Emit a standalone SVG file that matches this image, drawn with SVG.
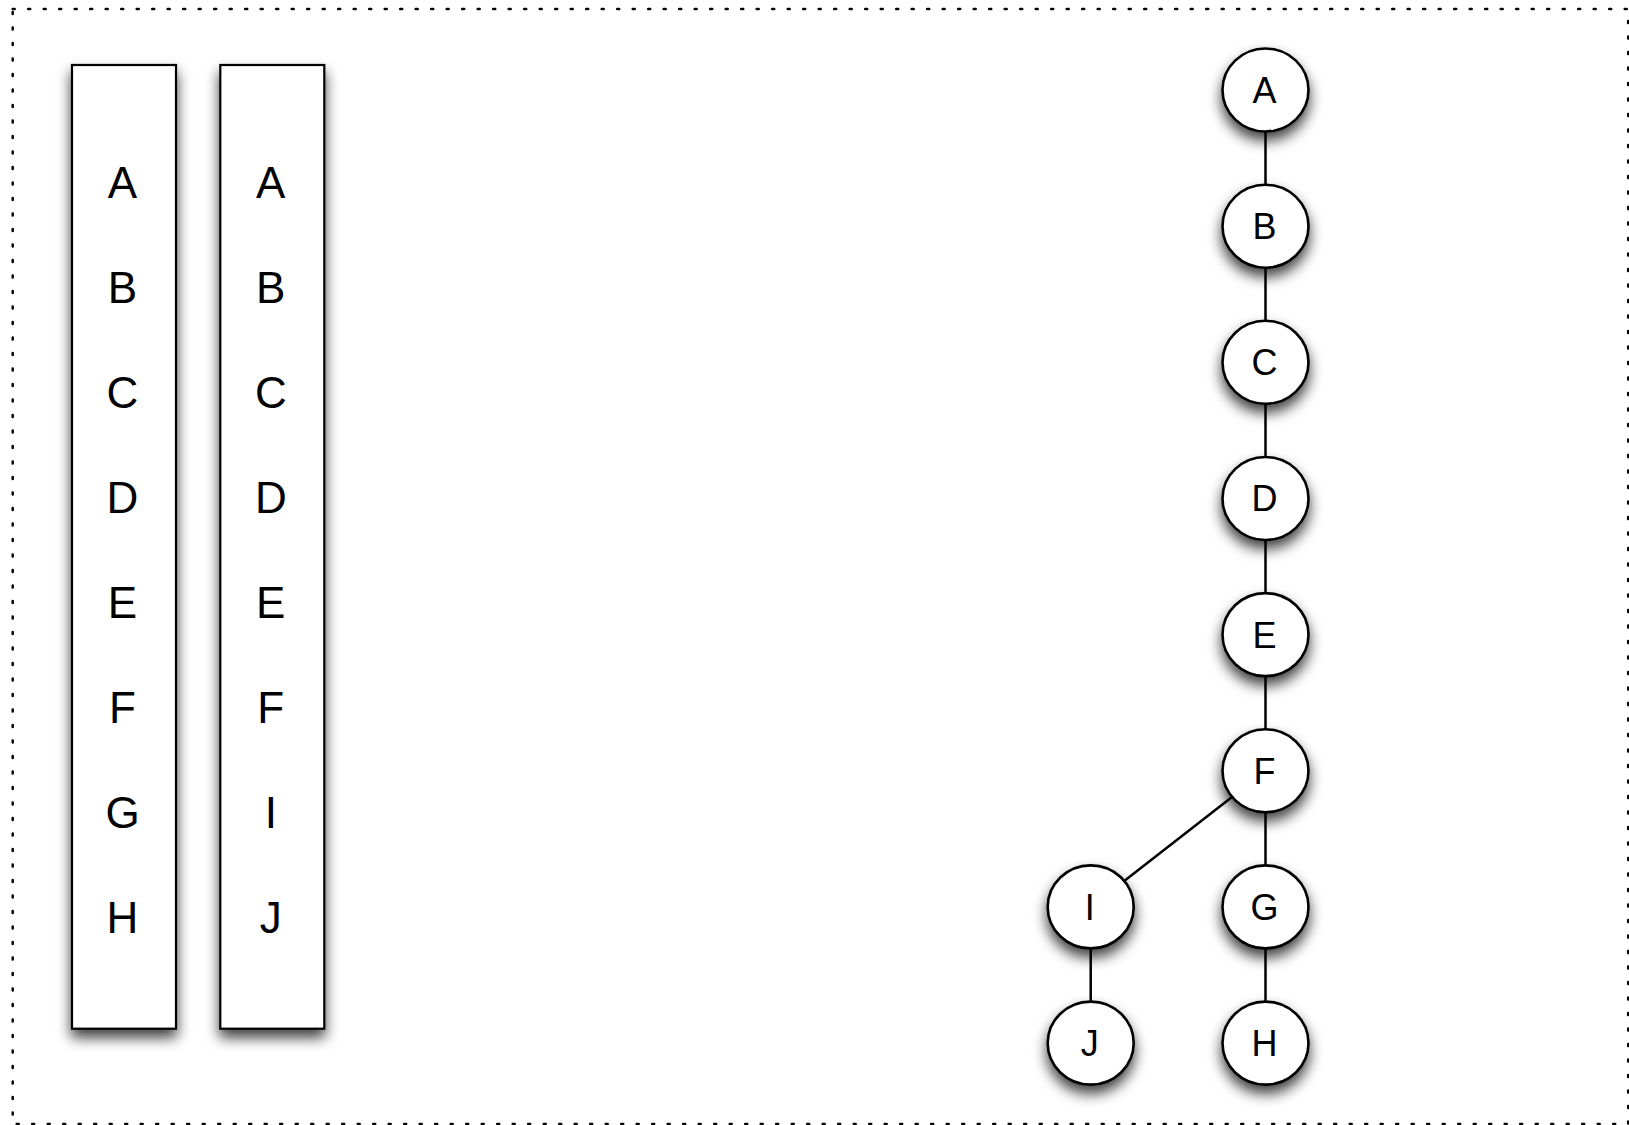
<svg xmlns="http://www.w3.org/2000/svg" width="1629" height="1125" viewBox="0 0 1629 1125">
  <defs>
    <filter id="shadow" x="-50%" y="-50%" width="200%" height="200%">
      <feDropShadow dx="0" dy="8" stdDeviation="7" flood-color="#000" flood-opacity="0.75"/>
    </filter>
    <style>
      .frame { fill: none; stroke: #000; stroke-width: 2.5; stroke-dasharray: 2 13.5; stroke-linecap: round; }
      .column { fill: #fff; stroke: #000; stroke-width: 2.2; filter: url(#shadow); }
      .col-text { font-family: "Liberation Sans", Arial, sans-serif; font-size: 44px; text-anchor: middle; fill: #000; }
      .node ellipse { fill: #fff; stroke: #000; stroke-width: 2.6; filter: url(#shadow); }
      .node text { font-family: "Liberation Sans", Arial, sans-serif; font-size: 36px; text-anchor: middle; fill: #000; }
      .edge { stroke: #000; stroke-width: 2.5; fill: none; }
    </style>
  </defs>

  <rect width="1629" height="1125" fill="#fff"/>

  <!-- dotted outer frame -->
  <rect class="frame" x="12.7" y="9" width="1615.5" height="1115"/>

  <!-- first sequence list -->
  <g id="list1">
    <rect class="column" x="72" y="65" width="104" height="963.7"/>
    <text class="col-text" x="122.5" y="198">A</text>
    <text class="col-text" x="122.5" y="303">B</text>
    <text class="col-text" x="122.5" y="408">C</text>
    <text class="col-text" x="122.5" y="513">D</text>
    <text class="col-text" x="122.5" y="618">E</text>
    <text class="col-text" x="122.5" y="723">F</text>
    <text class="col-text" x="122.5" y="828">G</text>
    <text class="col-text" x="122.5" y="933">H</text>
  </g>

  <!-- second sequence list -->
  <g id="list2">
    <rect class="column" x="220.3" y="65" width="104" height="963.7"/>
    <text class="col-text" x="270.8" y="198">A</text>
    <text class="col-text" x="270.8" y="303">B</text>
    <text class="col-text" x="270.8" y="408">C</text>
    <text class="col-text" x="270.8" y="513">D</text>
    <text class="col-text" x="270.8" y="618">E</text>
    <text class="col-text" x="270.8" y="723">F</text>
    <text class="col-text" x="270.8" y="828">I</text>
    <text class="col-text" x="270.8" y="933">J</text>
  </g>

  <!-- tree nodes -->
  <g id="node-A" class="node"><ellipse cx="1265.5" cy="90" rx="43" ry="41.5"/><text x="1264.5" y="103">A</text></g>
  <g id="node-B" class="node"><ellipse cx="1265.5" cy="226.2" rx="43" ry="41.5"/><text x="1264.5" y="239.1">B</text></g>
  <g id="node-C" class="node"><ellipse cx="1265.5" cy="362.3" rx="43" ry="41.5"/><text x="1264.5" y="375.2">C</text></g>
  <g id="node-D" class="node"><ellipse cx="1265.5" cy="498.5" rx="43" ry="41.5"/><text x="1264.5" y="511.4">D</text></g>
  <g id="node-E" class="node"><ellipse cx="1265.5" cy="634.6" rx="43" ry="41.5"/><text x="1264.5" y="647.5">E</text></g>
  <g id="node-F" class="node"><ellipse cx="1265.5" cy="770.8" rx="43" ry="41.5"/><text x="1264.5" y="783.7">F</text></g>
  <g id="node-G" class="node"><ellipse cx="1265.5" cy="906.9" rx="43" ry="41.5"/><text x="1264.5" y="919.8">G</text></g>
  <g id="node-H" class="node"><ellipse cx="1265.5" cy="1043.1" rx="43" ry="41.5"/><text x="1264.5" y="1056">H</text></g>
  <g id="node-I" class="node"><ellipse cx="1090.7" cy="906.9" rx="43" ry="41.5"/><text x="1089.7" y="919.8">I</text></g>
  <g id="node-J" class="node"><ellipse cx="1090.7" cy="1043.1" rx="43" ry="41.5"/><text x="1089.7" y="1056">J</text></g>

  <!-- tree edges -->
  <g id="edges">
    <line class="edge" x1="1265.5" y1="131.5" x2="1265.5" y2="184.7"/>
    <line class="edge" x1="1265.5" y1="267.7" x2="1265.5" y2="320.8"/>
    <line class="edge" x1="1265.5" y1="403.8" x2="1265.5" y2="457"/>
    <line class="edge" x1="1265.5" y1="540" x2="1265.5" y2="593.1"/>
    <line class="edge" x1="1265.5" y1="676.1" x2="1265.5" y2="729.3"/>
    <line class="edge" x1="1265.5" y1="812.3" x2="1265.5" y2="865.4"/>
    <line class="edge" x1="1265.5" y1="948.4" x2="1265.5" y2="1001.6"/>
    <line class="edge" x1="1232" y1="796.9" x2="1124.2" y2="880.9"/>
    <line class="edge" x1="1090.7" y1="948.4" x2="1090.7" y2="1001.6"/>
  </g>
</svg>
